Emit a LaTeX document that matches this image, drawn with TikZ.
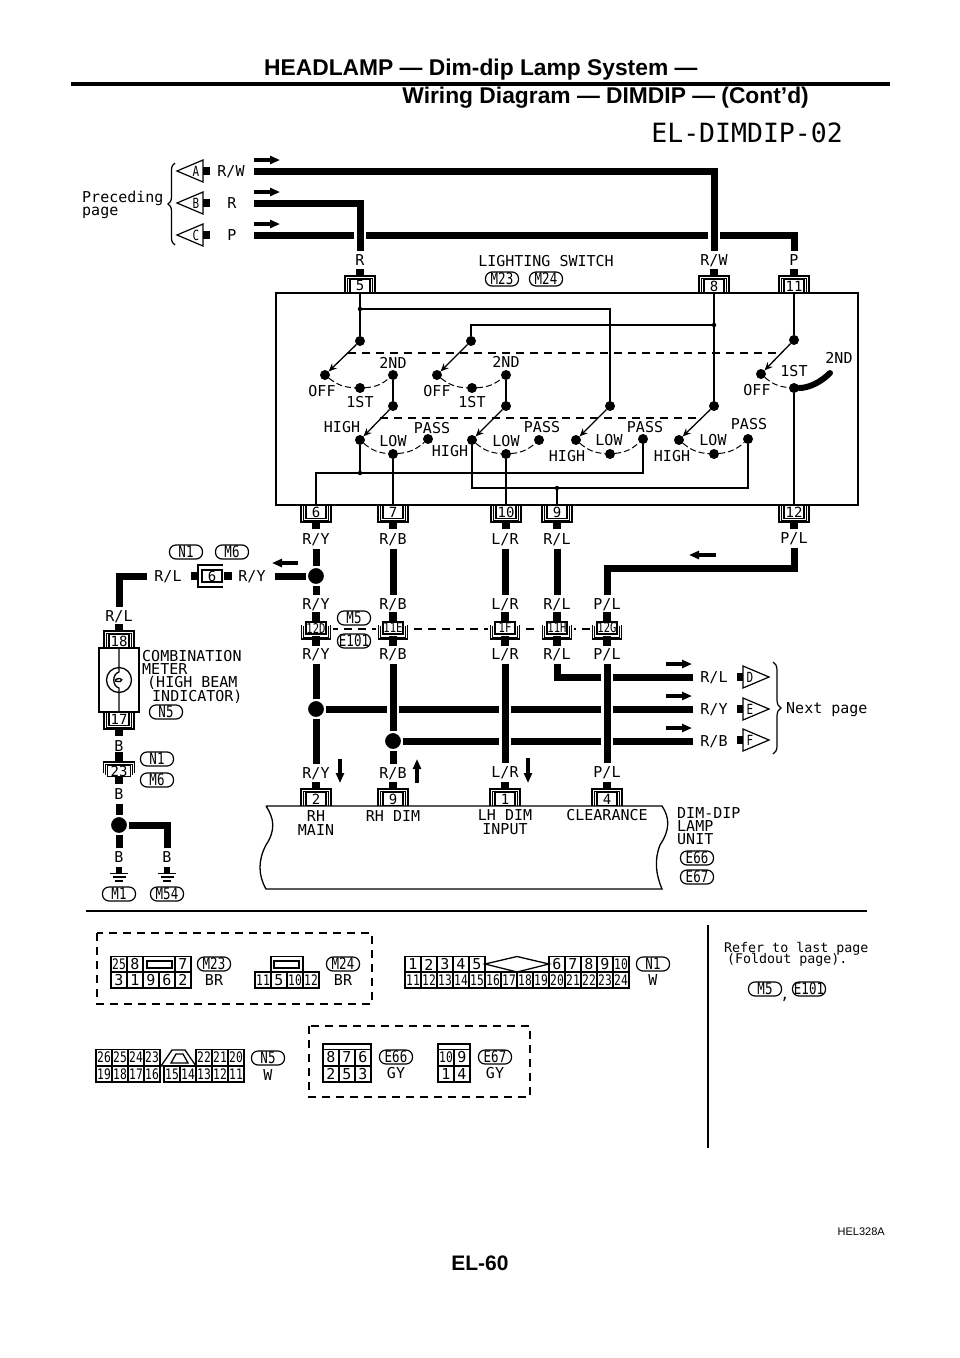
\documentclass[tikz,border=0pt]{standalone}
\usepackage{fontspec}
\setmainfont{Liberation Sans}
\newfontfamily\wirefont{DejaVu Sans Mono}
\newfontfamily\condfont[FakeStretch=0.78]{DejaVu Sans Mono}
\usetikzlibrary{arrows.meta,decorations.pathreplacing}
\newcommand{\cellnum}[1]{\ifnum#1<10 {\wirefont\fontsize{15}{15}\selectfont #1}\else #1\fi}
\newcommand{\cellrow}[4]{\foreach \txt [count=\i from 0] in {#4} \node[cellbox] (#1\i) at (#2+\i*16,#3) {\cellnum{\txt}};}
\tikzset{
  lbl/.style={font=\wirefont\fontsize{15}{15}\selectfont,inner sep=0pt,outer sep=4pt,text height=11pt,text depth=0pt},
  txtl/.style={font=\wirefont\fontsize{15}{15}\selectfont,inner sep=0pt,anchor=west,text height=11pt,text depth=0pt},
  wire/.style={line width=7pt},
  over/.style={preaction={draw=white,line width=12.5pt}},
  thinw/.style={line width=1.3pt},
  junc/.style={circle,fill=black,draw=white,line width=2pt,minimum size=18pt,inner sep=0pt},
  contact/.style={circle,fill=black,minimum size=10pt,inner sep=0pt},
  dot/.style={circle,fill=black,minimum size=4.5pt,inner sep=0pt},
  blade/.style={line width=1.3pt,-{Stealth[length=8pt,width=7pt]}},
  arcd/.style={line width=1pt,dash pattern=on 6pt off 3pt},
  link/.style={line width=1.1pt,dash pattern=on 8pt off 6pt},
  flow/.style={line width=3.5pt,-{Triangle[length=10pt,width=8pt]}},
  termbox/.style={draw,line width=1.2pt,minimum width=20pt,minimum height=13pt,inner sep=0pt,font=\wirefont\fontsize{14}{14}\selectfont},
  midbox/.style={draw,line width=1.5pt,minimum width=20pt,minimum height=12pt,inner sep=0pt,font=\condfont\fontsize{13.5}{13.5}\selectfont},
  oval/.style={draw,line width=1.2pt,rounded corners=6.5pt,minimum width=33pt,minimum height=14pt,inner sep=0pt,font=\condfont\fontsize{16}{16}\selectfont},
  cellbox/.style={draw,line width=1.2pt,minimum width=16pt,minimum height=16pt,inner sep=0pt,font=\condfont\fontsize{14.5}{14.5}\selectfont},
  tinyl/.style={font=\condfont\fontsize{14}{14}\selectfont,inner sep=0pt}
}
\begin{document}
\begin{tikzpicture}[x=1pt,y=-1pt]
  \useasboundingbox (0,0) rectangle (960,1358);
  \fill[white] (0,0) rectangle (960,1358);

  % heading
  \node[anchor=west,inner sep=0pt,font=\bfseries\fontsize{22.8}{22.8}\selectfont] (headA) at (264,69.5) {HEADLAMP — Dim-dip Lamp System —};
  \node[anchor=east,inner sep=0pt,font=\bfseries\fontsize{22.8}{22.8}\selectfont] (headB) at (809,98) {Wiring Diagram — DIMDIP — (Cont’d)};
  \draw[line width=4pt] (71,84)--(890,84);
  \node[anchor=east,inner sep=0pt,font=\wirefont\fontsize{26.5}{26.5}\selectfont] (diagId) at (843,133) {EL-DIMDIP-02};

  % preceding page
  \foreach \nm/\y in {A/171,B/203,C/235}{
    \draw[line width=1.2pt] (203,\y-11)--(177,\y)--(203,\y+11)--cycle;
    \fill (203,\y-4) rectangle (210,\y+4);
    \node[tinyl] (from\nm) at (196,\y) {\nm};
  }
  \draw[line width=1.2pt,decorate,decoration={brace,amplitude=7pt,mirror}] (175,163)--(175,245);
  \node[txtl] (precA) at (82,197) {Preceding};
  \node[txtl] (precB) at (82,210) {page};
  \node[lbl,outer xsep=9.5pt] (lblRW) at (231,171) {R/W};
  \node[lbl,outer xsep=17.5pt] (lblR) at (232,203) {R};
  \node[lbl,outer xsep=17.5pt] (lblP) at (232,235) {P};
  \node[lbl] (lbl5) at (360,260) {R};
  \node[lbl] (lbl8) at (714,260) {R/W};
  \node[lbl] (lbl11) at (794,260) {P};
  \draw[wire] (lblP) -| (lbl11);
  \draw[wire,over] (lblRW) -| (lbl8);
  \draw[wire,over] (lblR) -| (lbl5);
  \foreach \y in {160,192,224} \draw[flow] (254,\y)--(280,\y);

  % lighting switch
  \node[draw,line width=1.3pt,minimum width=582pt,minimum height=212pt,inner sep=0pt] (swbox) at (567,399) {};
  \node[txtl,anchor=center] (swname) at (546,261) {LIGHTING SWITCH};
  \foreach \nm/\x/\y/\txt in {ovM23/502/279/M23,ovM24/546/279/M24,ovN1a/186/552/N1,ovM6a/232/552/M6,ovM5/354/618/M5,ovE101/354/641/E101,ovN5/166/712/N5,ovN1b/157/759/N1,ovM6b/157/780/M6,ovM1/119/894/M1,ovM54/167/894/M54,ovE66/697/858/E66,ovE67/697/877/E67,ovM23b/214/964/M23,ovM24b/343/964/M24,ovN1c/653/964/N1,ovN5b/268/1058/N5,ovE66b/396/1057/E66,ovE67b/495/1057/E67,ovM5b/765/989/M5,ovE101b/809/989/E101}
    \node[oval] (\nm) at (\x,\y) {\txt};

  % terminals
  \foreach \nm/\x/\y/\txt in {tA/360/293/5,tB/714/293/8,tC/794/293/11,tD/316/806/2,tE/393/806/9,tF/505/806/1,tG/607/806/4,tH/119/648/18}{
    \draw[line width=1.2pt] (\x-15,\y)--(\x-15,\y-17)--(\x+15,\y-17)--(\x+15,\y);
    \draw[line width=1pt] (\x-12.5,\y)--(\x-12.5,\y-15)--(\x+12.5,\y-15)--(\x+12.5,\y);
    \draw[line width=8pt] (\x,\y-17)--(\x,\y-24);
    \node[termbox,anchor=south,fill=white] (\nm) at (\x,\y) {\txt};
  }
  \foreach \nm/\x/\y/\txt in {tJ/316/505/6,tK/393/505/7,tL/506/505/10,tM/557/505/9,tN/794/505/12,tP/119/712/17}{
    \draw[line width=1.2pt] (\x-15,\y)--(\x-15,\y+17)--(\x+15,\y+17)--(\x+15,\y);
    \draw[line width=1pt] (\x-12.5,\y)--(\x-12.5,\y+15)--(\x+12.5,\y+15)--(\x+12.5,\y);
    \draw[line width=8pt] (\x,\y+17)--(\x,\y+24);
    \node[termbox,anchor=north,fill=white] (\nm) at (\x,\y) {\txt};
  }

  % contacts of the switch
  \foreach \nm/\x/\y in {aT/360/341,aO/325/375,aF/360/388,aS/393/375,
                         bT/393/406,bH/360/440,bL/393/454,bP/428/439,
                         cT/471/341,cO/437/375,cF/472/388,cS/506/375,
                         dT/506/406,dH/472/440,dL/506/454,dP/539/440,
                         eT/610/406,eH/576/440,eL/610/454,eP/643/439,
                         fT/714/406,fH/679/440,fL/714/454,fP/748/439,
                         gT/794/340,gO/761/374,gF/794/388}
    \node[contact] (\nm) at (\x,\y) {};
  \node[dot] (dotA) at (360,309) {};
  \node[dot] (dotB) at (714,325) {};
  \node[dot] (dotC) at (360,473) {};
  \node[dot] (dotD) at (557,488) {};
  \draw[thinw] (tA)--(aT);
  \draw[thinw] (dotA) -| (eT);
  \draw[thinw] (tB)--(fT);
  \draw[thinw] (dotB) -| (cT);
  \draw[thinw] (tC)--(gT);
  \draw[thinw] (aS)--(bT);
  \draw[thinw] (cS)--(dT);
  \draw[thinw] (bH)--(dotC);
  \draw[thinw] (dotC) -| (tJ);
  \draw[thinw] (dotC) -| (eP);
  \draw[thinw] (bL)--(tK);
  \draw[thinw] (dL)--(tL);
  \draw[thinw] (dH) |- (dotD);
  \draw[thinw] (dotD) -| (fP);
  \draw[thinw] (dotD)--(tM);
  \draw[thinw] (gF)--(tN);
  \foreach \a/\b in {aT/aO,bT/bH,cT/cO,dT/dH,eT/eH,fT/fH,gT/gO} \draw[blade] (\a)--(\b);
  \foreach \a/\b in {aO/aF,aF/aS,bH/bL,bL/bP,cO/cF,cF/cS,dH/dL,dL/dP,eH/eL,eL/eP,fH/fL,fL/fP,gO/gF}
    \draw[arcd] (\a) to[bend right=18] (\b);
  \coordinate (gEnd) at (830,373);
  \draw[line width=6pt,line cap=round] (gF) .. controls (808,388) and (820,383) .. (gEnd);
  \coordinate (linkAa) at (348,353);
  \coordinate (linkAb) at (780,353);
  \coordinate (linkBa) at (380,418);
  \coordinate (linkBb) at (700,418);
  \draw[link] (linkAa)--(linkAb);
  \draw[link] (linkBa)--(linkBb);
  \foreach \nm/\x/\y/\txt in {sa/322/391/OFF,sb/360/402/1ST,sc/393/363/2ND,sd/342/427/HIGH,se/393/441/LOW,sf/432/428/PASS,
                              sg/437/391/OFF,sh/472/402/1ST,si/506/362/2ND,sj/450/451/HIGH,sk/506/441/LOW,sl/542/427/PASS,
                              sm/567/456/HIGH,sn/609/440/LOW,so/645/427/PASS,sp/672/456/HIGH,sq/713/440/LOW,sr/749/424/PASS,
                              ss/757/390/OFF,st/794/371/1ST,su/839/358/2ND}
    \node[lbl,outer sep=0pt] (\nm) at (\x,\y) {\txt};

  % labels of the harness
  \node[lbl] (lblYa) at (316,539) {R/Y};
  \node[lbl] (lblBa) at (393,539) {R/B};
  \node[lbl] (lblLa) at (505,539) {L/R};
  \node[lbl] (lblRa) at (557,539) {R/L};
  \node[lbl] (lblGa) at (794,538) {P/L};
  \node[lbl] (lblYb) at (316,604) {R/Y};
  \node[lbl] (lblBb) at (393,604) {R/B};
  \node[lbl] (lblLb) at (505,604) {L/R};
  \node[lbl] (lblRb) at (557,604) {R/L};
  \node[lbl] (lblGb) at (607,604) {P/L};
  \node[lbl] (lblYc) at (316,654) {R/Y};
  \node[lbl] (lblBc) at (393,654) {R/B};
  \node[lbl] (lblLc) at (505,654) {L/R};
  \node[lbl] (lblRc) at (557,654) {R/L};
  \node[lbl] (lblGc) at (607,654) {P/L};
  \node[lbl] (lblYd) at (316,773) {R/Y};
  \node[lbl] (lblBd) at (393,773) {R/B};
  \node[lbl] (lblLd) at (505,772) {L/R};
  \node[lbl] (lblGd) at (607,772) {P/L};
  \node[lbl,outer xsep=9.5pt] (lblYh) at (252,576) {R/Y};
  \node[lbl,outer xsep=7.5pt] (lblRh) at (168,576) {R/L};
  \node[lbl] (lblRm) at (119,616) {R/L};
  \node[lbl,outer xsep=7.5pt] (lblNa) at (714,677) {R/L};
  \node[lbl,outer xsep=7.5pt] (lblNb) at (714,709) {R/Y};
  \node[lbl,outer xsep=7.5pt] (lblNc) at (714,741) {R/B};
  \node[lbl] (lblKa) at (119,746) {B};
  \node[lbl] (lblKb) at (119,794) {B};
  \node[lbl] (lblKc) at (119,857) {B};
  \node[lbl] (lblKd) at (167,857) {B};

  % junctions and harness
  \node[junc] (jnA) at (316,576) {};
  \node[junc] (jnB) at (316,709) {};
  \node[junc] (jnC) at (393,741) {};
  \node[junc] (jnD) at (119,825) {};
  \coordinate (cnrG) at (794,568);
  \draw[wire] (lblYa)--(jnA);
  \draw[wire] (jnA)--(lblYb);
  \draw[wire] (jnA)--(lblYh);
  \draw[wire] (lblRh) -| (lblRm);
  \draw[wire] (lblBa)--(lblBb);
  \draw[wire] (lblLa)--(lblLb);
  \draw[wire] (lblRa)--(lblRb);
  \draw[wire] (lblGa)--(cnrG) -| (lblGb);
  \draw[wire] (jnB)--(lblNb);
  \draw[wire] (jnC)--(lblNc);
  \draw[wire] (lblRc) |- (lblNa);
  \draw[wire] (lblYc)--(jnB);
  \draw[wire] (jnB)--(lblYd);
  \draw[wire,over] (lblBc)--(jnC);
  \draw[wire] (jnC)--(lblBd);
  \draw[wire,over] (lblLc)--(lblLd);
  \draw[wire,over] (lblGc)--(lblGd);
  \draw[wire] (lblKb)--(jnD);
  \draw[wire] (jnD)--(lblKc);
  \draw[wire] (jnD) -| (lblKd);
  \draw[flow] (298,563)--(272,563);
  \draw[flow] (716,555)--(689,555);
  \draw[flow] (340,759)--(340,783);
  \draw[flow] (417,783)--(417,759);
  \draw[flow] (528,758)--(528,783);
  \foreach \y in {664,696,728} \draw[flow] (666,\y)--(692,\y);

  % joint connectors
  \draw[link] (316,629)--(607,629);
  \foreach \nm/\x/\txt in {mA/316/12D,mB/393/11E,mC/505/1F,mD/557/11H,mE/607/12G}{
    \fill[white] (\x-17,620) rectangle (\x+17,638);
    \draw[line width=8pt] (\x,612)--(\x,621);
    \draw[line width=8pt] (\x,636)--(\x,646);
    \draw[line width=1.2pt] (\x-14.5,625)--(\x-14.5,639)--(\x+14.5,639)--(\x+14.5,625);
    \draw[line width=1pt] (\x-12.5,626)--(\x-12.5,637)--(\x+12.5,637)--(\x+12.5,626);
    \node[midbox,fill=white] (\nm) at (\x,628) {\txt};
  }

  % connector 6 on the R/L line
  \draw[line width=8pt] (191,576)--(198,576);
  \draw[line width=8pt] (224,576)--(232,576);
  \draw[line width=1.2pt] (223,565)--(198,565)--(198,587)--(223,587);
  \node[termbox,fill=white,minimum height=12pt] (tQ) at (212,576) {6};

  % combination meter
  \node[draw,line width=1.3pt,minimum width=40pt,minimum height=64pt,inner sep=0pt] (meter) at (119,680) {};
  \node[circle,draw,line width=1.3pt,minimum size=25pt,inner sep=0pt] (lamp) at (119,680) {};
  \draw[thinw] (tH)--(119,672) .. controls (112,674) and (112,686) .. (119,688)--(tP);
  \draw[thinw] (115,680) .. controls (123,675) and (125,684) .. (115,681);
  \node[txtl] (mtA) at (142,656) {COMBINATION};
  \node[txtl] (mtB) at (142,669) {METER};
  \node[txtl] (mtC) at (147,682) {(HIGH BEAM};
  \node[txtl] (mtD) at (152,696) {INDICATOR)};

  % connector 23 and grounds
  \draw[line width=8pt] (119,752)--(119,762);
  \draw[line width=8pt] (119,776)--(119,784);
  \draw[line width=1.2pt] (103.5,773)--(103.5,762)--(134.5,762)--(134.5,773);
  \draw[line width=1pt] (105.5,775)--(105.5,764)--(132.5,764)--(132.5,775);
  \node[termbox,fill=white,minimum width=23pt,minimum height=11pt] (tR) at (119,771) {23};
  \foreach \x in {119,167}{
    \draw[line width=6pt] (\x,867)--(\x,873);
    \draw[line width=1.2pt] (\x-9,873.5)--(\x+9,873.5);
    \draw[line width=1.2pt] (\x-6.5,877)--(\x+6.5,877);
    \draw[line width=1.2pt] (\x-4,881)--(\x+4,881);
  }

  % next page
  \foreach \nm/\y in {D/677,E/709,F/740}{
    \draw[line width=1.2pt] (743,\y-11)--(769,\y)--(743,\y+11)--cycle;
    \fill (737,\y-4) rectangle (743,\y+4);
    \node[tinyl] (to\nm) at (750,\y) {\nm};
  }
  \draw[line width=1.2pt,decorate,decoration={brace,amplitude=8pt}] (773,662)--(773,754);
  \node[txtl] (nextpg) at (786,708) {Next page};

  % dim-dip unit
  \draw[line width=1.3pt] (266,806)--(662,806) .. controls (670,818) and (670,830) .. (660,845) .. controls (654,860) and (656,875) .. (662,889)
    --(266,889) .. controls (258,875) and (258,860) .. (266,845) .. controls (276,830) and (274,818) .. (266,806);
  \node[lbl,outer sep=0pt] (unA) at (316,816) {RH};
  \node[lbl,outer sep=0pt] (unB) at (316,830) {MAIN};
  \node[lbl,outer sep=0pt] (unC) at (393,816) {RH DIM};
  \node[lbl,outer sep=0pt] (unD) at (505,815) {LH DIM};
  \node[lbl,outer sep=0pt] (unE) at (505,829) {INPUT};
  \node[lbl,outer sep=0pt] (unF) at (607,815) {CLEARANCE};
  \node[txtl] (unG) at (677,813) {DIM-DIP};
  \node[txtl] (unH) at (677,826) {LAMP};
  \node[txtl] (unI) at (677,839) {UNIT};

  % connector views
  \draw[line width=1.3pt] (86,911)--(867,911);
  \draw[line width=1.5pt] (708,925)--(708,1148);
  \draw[link] (97,933) rectangle (372,1004);
  \draw[link] (309,1026) rectangle (530,1097);

  \cellrow{va}{119}{964.5}{25,8}
  \node[cellbox] (vaGap) at (159,964.5) [minimum width=32pt] {};
  \cellrow{vb}{183}{964.5}{7}
  \cellrow{vc}{119}{980}{3,1,9,6,2}
  \draw[thinw] (147,961) rectangle (172,968);
  \node[lbl,outer sep=0pt] (vaCol) at (214,980) {BR};

  \node[cellbox,minimum width=32pt] (vdHump) at (287,964.5) {};
  \cellrow{vd}{263}{980}{11,5,10,12}
  \draw[thinw] (274,961) rectangle (299,968);
  \node[lbl,outer sep=0pt] (vdCol) at (343,980) {BR};

  \cellrow{ve}{413}{964.5}{1,2,3,4,5}
  \cellrow{vf}{557}{964.5}{6,7,8,9,10}
  \cellrow{vg}{413}{980}{11,12,13,14,15,16,17,18,19,20,21,22,23,24}
  \draw[thinw] (485,964)--(517,956.5)--(549,964)--(517,972)--cycle;
  \node[lbl,outer sep=0pt] (veCol) at (653,980) {W};

  \cellrow{vh}{104}{1057.5}{26,25,24,23}
  \cellrow{vj}{204}{1057.5}{22,21,20}
  \cellrow{vk}{104}{1074}{19,18,17,16}
  \cellrow{vl}{172}{1074}{15,14,13,12,11}
  \draw[thinw] (161,1066)--(172,1050)--(185,1050)--(196,1066)--cycle;
  \draw[thinw] (171,1063)--(176,1054)--(183,1054)--(188,1063)--cycle;
  \node[lbl,outer sep=0pt] (vhCol) at (268,1075) {W};

  \draw[thinw] (323,1044) rectangle (371,1049.5);
  \cellrow{vm}{331}{1057.5}{8,7,6}
  \cellrow{vn}{331}{1074}{2,5,3}
  \node[lbl,outer sep=0pt] (vmCol) at (396,1073) {GY};
  \draw[thinw] (438,1044) rectangle (470,1049.5);
  \cellrow{vp}{446}{1057.5}{10,9}
  \cellrow{vq}{446}{1074}{1,4}
  \node[lbl,outer sep=0pt] (vpCol) at (495,1073) {GY};

  \node[txtl,font=\wirefont\fontsize{13.3}{13.3}\selectfont] (refA) at (724,947) {Refer to last page};
  \node[txtl,font=\wirefont\fontsize{13.3}{13.3}\selectfont] (refB) at (727,958) {(Foldout page).};
  \node[lbl,outer sep=0pt] (refC) at (785,994) {,};

  % footer
  \node[anchor=east,inner sep=0pt,font=\fontsize{11}{11}\selectfont] (figId) at (885,1232) {HEL328A};
  \node[inner sep=0pt,font=\bfseries\fontsize{21}{21}\selectfont] (pageNo) at (480,1263) {EL-60};
\end{tikzpicture}
\end{document}
